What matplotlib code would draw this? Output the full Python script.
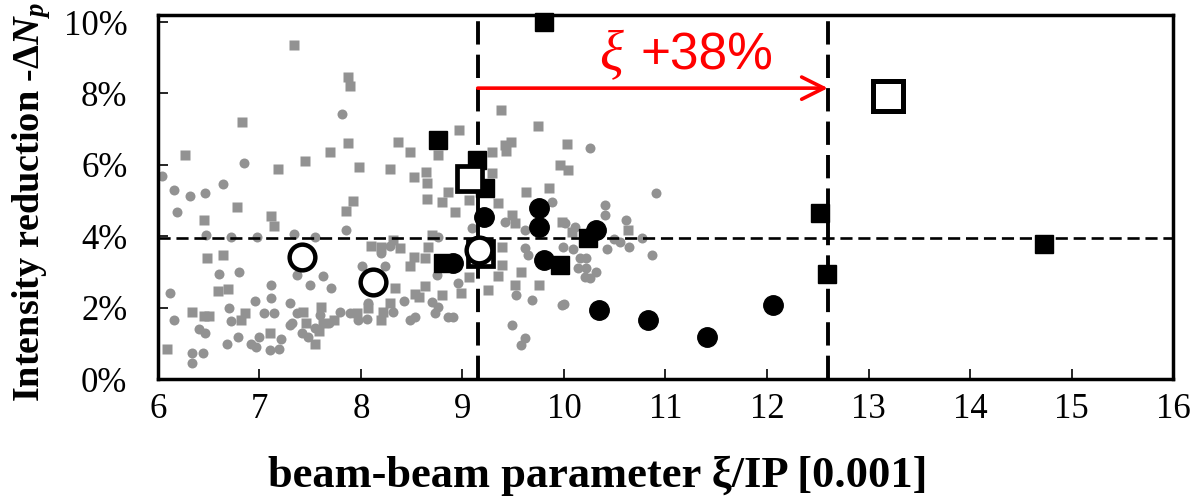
import matplotlib
matplotlib.use('Agg')
from matplotlib import pyplot as plt

# scattered history points, x = xi/IP [0.001], y = intensity loss [%]
grijs_vierkant_x = [6.27, 7.18, 6.78, 6.45, 7.11, 7.14, 6.48, 6.64, 6.59, 6.69, 6.34, 6.45, 6.50, 6.82, 6.86, 7.10, 6.09,
                    7.69, 7.45, 7.98, 8.29, 8.48, 8.52, 8.64, 8.65, 8.65, 7.92, 7.85, 8.10, 8.20, 8.38, 8.32, 8.34, 8.52,
                    8.63, 8.48, 8.63, 8.53, 8.57, 8.29, 8.22, 8.20, 8.07, 7.96, 7.43, 7.61, 7.73, 7.46, 7.63, 7.59, 7.55,
                    8.76, 9.29, 9.42, 8.86, 8.80, 8.93, 9.06, 9.29, 9.35, 9.63, 9.85, 9.96, 9.49, 9.52, 9.98, 8.70, 8.66,
                    9.39, 9.06, 9.35, 9.39, 9.58, 9.25, 8.80, 8.99, 9.52, 9.75, 10.03, 10.04, 10.08, 10.63,
                    7.34, 7.87, 7.89, 6.83, 7.87, 8.36, 8.97, 9.38, 9.74, 9.48, 9.43]
grijs_vierkant_y = [6.27, 5.88, 4.83, 4.45, 4.57, 4.29, 3.38, 3.47, 2.47, 2.52, 1.89, 1.77, 1.77, 1.65, 1.86, 1.30, 0.83,
                    6.35, 6.11, 5.95, 5.88, 6.35, 5.67, 5.81, 5.48, 5.03, 4.99, 4.71, 3.73, 3.70, 3.66, 3.89, 2.54, 3.43,
                    3.38, 3.17, 2.61, 2.38, 2.31, 2.12, 1.89, 1.65, 1.98, 1.84, 1.89, 2.03, 1.65, 1.58, 1.58, 1.35, 0.98,
                    6.27, 6.37, 6.55, 5.25, 4.97, 4.69, 5.01, 5.76, 4.92, 5.25, 5.34, 6.00, 4.59, 4.36, 4.41, 4.03, 3.71,
                    3.71, 2.87, 2.89, 3.19, 3.01, 2.49, 2.35, 2.40, 2.63, 2.63, 6.58, 5.85, 4.13, 4.17,
                    9.37, 8.45, 8.20, 7.20, 6.60, 6.65, 6.99, 7.55, 7.08, 6.65, 6.40]

grijs_rond_x = [6.85, 6.04, 6.16, 6.32, 6.46, 6.64, 6.19, 6.47, 6.72, 6.98, 6.60, 6.80, 6.12, 7.11, 7.11, 6.96, 6.70,
                6.16, 6.72, 7.04, 7.14, 6.40, 6.46, 6.79, 6.68, 6.92, 7.00, 6.97, 7.10, 7.19, 7.21, 6.34, 6.44, 6.34,
                7.30, 7.30, 7.85, 7.34, 7.55, 8.29, 8.20, 8.01, 8.24, 7.37, 7.63, 7.50, 7.70, 8.42, 8.32, 8.07, 8.06,
                7.89, 7.97, 7.79, 7.37, 7.60, 7.68, 7.32, 7.55, 7.42, 7.48, 8.48, 8.53,
                9.88, 9.42, 9.62, 9.09, 8.76, 9.62, 9.65, 8.75, 8.96, 8.70, 8.76, 8.73, 8.91, 8.86, 9.53, 9.68, 9.98,
                9.49, 9.62, 9.58, 10.26, 10.91, 10.40, 10.40, 10.01, 10.11, 10.61, 10.49, 10.55, 10.77, 10.42, 10.64,
                9.99, 10.09, 10.87, 10.16, 10.22, 10.14, 10.22, 10.32, 10.21, 10.26, 10.00, 7.81]
grijs_rond_y = [6.04, 5.69, 5.29, 5.13, 5.20, 5.46, 4.67, 4.03, 3.97, 3.97, 2.94, 3.00, 2.40, 2.63, 2.26, 2.19, 1.98,
                1.65, 1.62, 1.84, 1.84, 1.39, 1.30, 1.18, 0.98, 0.98, 1.18, 0.90, 0.81, 0.83, 1.12, 0.72, 0.72, 0.44,
                2.14, 1.51, 4.17, 4.06, 3.97, 3.73, 3.52, 3.17, 3.17, 2.91, 2.89, 2.63, 2.54, 2.19, 1.89, 2.12, 1.67,
                1.86, 1.65, 1.89, 1.84, 1.79, 1.56, 1.58, 1.42, 1.30, 1.18, 1.65, 1.75,
                4.97, 4.41, 4.17, 4.22, 3.99, 3.66, 3.47, 2.91, 2.68, 2.17, 2.03, 1.84, 1.75, 1.75, 2.35, 2.21, 2.07,
                1.51, 1.14, 0.95, 6.46, 5.20, 4.87, 4.59, 4.38, 4.27, 4.45, 3.91, 3.85, 3.94, 3.63, 3.69,
                3.71, 3.63, 3.47, 3.38, 3.38, 3.10, 3.10, 3.01, 2.87, 2.82, 2.09, 7.42]

# recent runs
zwart_vierkant_x = [9.80, 8.76, 9.14, 9.22, 8.81, 9.96, 10.24, 12.52, 12.59, 14.73]
zwart_vierkant_y = [10.0, 6.70, 6.13, 5.34, 3.24, 3.19, 3.94, 4.66, 2.94, 3.77]
zwart_rond_x = [8.91, 9.21, 9.75, 9.75, 9.80, 10.32, 10.34, 10.83, 11.41, 12.06]
zwart_rond_y = [3.24, 4.55, 4.78, 4.27, 3.33, 4.17, 1.93, 1.65, 1.19, 2.07]

# averages
open_vierkant_x = [9.06, 9.17]
open_vierkant_y = [5.62, 3.52]
open_rond_x = [7.42, 8.12, 9.16]
open_rond_y = [3.43, 2.73, 3.61]
doel_x = [13.19]
doel_y = [7.94]

xi_oud = 9.15
xi_nieuw = 12.6
gemiddeld_verlies = 3.95
pijl_y = 8.15

x_ticks = list(range(6, 17))
y_ticks = list(range(0, 11, 2))

plt.rcParams['font.family'] = 'Liberation Serif'
plt.rcParams['mathtext.fontset'] = 'custom'
plt.rcParams['mathtext.rm'] = 'Liberation Serif:bold'
plt.rcParams['mathtext.it'] = 'Liberation Serif:italic:bold'

fig = plt.figure(figsize=(11.95, 5.01), dpi=100)
ax = fig.add_axes([0.1322, 0.2435, 0.8494, 0.7266])

grijs = '#929292'
ax.plot(grijs_vierkant_x, grijs_vierkant_y, 's', color=grijs, ms=6.8, mec='none', zorder=2)
ax.plot(grijs_rond_x, grijs_rond_y, 'o', color=grijs, ms=7.2, mec='none', zorder=2)

ax.axvline(xi_oud, color='k', lw=2.8, ls=(0, (6, 2.6)), zorder=3)
ax.axvline(xi_nieuw, color='k', lw=2.8, ls=(0, (6, 2.6)), zorder=3)
ax.axhline(gemiddeld_verlies, color='k', lw=1.9, ls=(0, (4.6, 2.2)), zorder=3)

ax.plot(zwart_vierkant_x, zwart_vierkant_y, 's', color='k', ms=13.5, zorder=4, clip_on=False)
ax.plot(zwart_rond_x, zwart_rond_y, 'o', color='k', ms=14, zorder=4, clip_on=False)
ax.plot(open_vierkant_x, open_vierkant_y, 's', mfc='white', mec='k', mew=3.4, ms=18, zorder=5)
ax.plot(doel_x, doel_y, 's', mfc='white', mec='k', mew=3.6, ms=21, zorder=5)
ax.plot(open_rond_x, open_rond_y, 'o', mfc='white', mec='k', mew=3.2, ms=18.5, zorder=6)

# arrow for the xi increase
ax.annotate('', xy=(xi_nieuw, pijl_y), xytext=(xi_oud, pijl_y),
            arrowprops=dict(arrowstyle='->', color='red', lw=2.6, mutation_scale=40, shrinkA=0, shrinkB=0),
            zorder=7)
winst = round((xi_nieuw / xi_oud - 1) * 100)
ax.text(10.35, 8.66, 'ξ', color='red', fontsize=40, family='Liberation Serif', style='italic', va='baseline')
ax.text(10.75, 8.66, f'+{winst}%', color='red', fontsize=37, family='Liberation Sans', va='baseline')

ax.set_xlim(6, 16)
ax.set_ylim(0, 10.2)
ax.set_xticks(x_ticks)
ax.set_xticklabels([str(v) for v in x_ticks])
ax.set_yticks(y_ticks)
ax.set_yticklabels([f'{v}%' for v in y_ticks])
ax.tick_params(direction='in', length=7, width=1.2, labelsize=25)
ax.tick_params(axis='x', pad=10)
ax.tick_params(axis='y', pad=22)
for spine in ax.spines.values():
    spine.set_linewidth(2.5)

fig.text(0.5004, 0.0499, 'beam-beam parameter ξ/IP [0.001]', fontsize=32, fontweight='bold', ha='center', va='center')
fig.text(0.0268, 0.597, 'Intensity reduction -Δ$N_p$', rotation=90, fontsize=27.5, fontweight='bold',
         ha='center', va='center')

plt.savefig('out.png', dpi=100)
